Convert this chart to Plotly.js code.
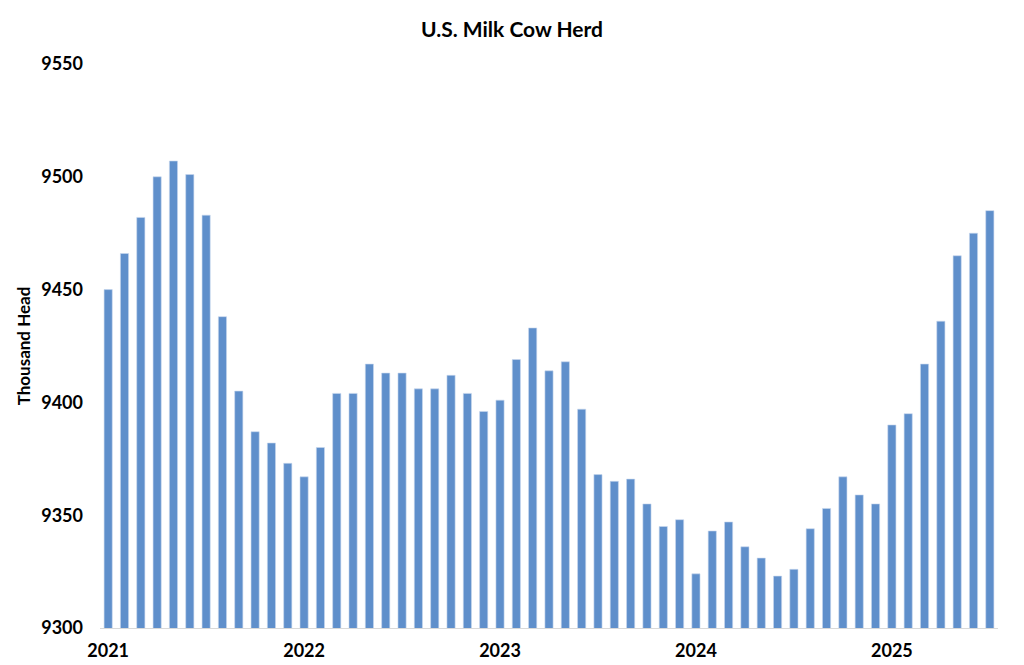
<!DOCTYPE html>
<html>
<head>
<meta charset="utf-8">
<script src="https://cdn.plot.ly/plotly-3.0.1.min.js"></script>
<style>html,body{margin:0;padding:0;background:#fff;}#chart{width:1024px;height:665px;}</style>
</head>
<body>
<div id="chart"></div>
<script>
const months = [
  "2021-01","2021-02","2021-03","2021-04","2021-05","2021-06","2021-07","2021-08","2021-09","2021-10","2021-11","2021-12",
  "2022-01","2022-02","2022-03","2022-04","2022-05","2022-06","2022-07","2022-08","2022-09","2022-10","2022-11","2022-12",
  "2023-01","2023-02","2023-03","2023-04","2023-05","2023-06","2023-07","2023-08","2023-09","2023-10","2023-11","2023-12",
  "2024-01","2024-02","2024-03","2024-04","2024-05","2024-06","2024-07","2024-08","2024-09","2024-10","2024-11","2024-12",
  "2025-01","2025-02","2025-03","2025-04","2025-05","2025-06","2025-07"
];
const herd = [
  9450, 9466, 9482, 9500, 9507, 9501, 9483, 9438, 9405, 9387, 9382, 9373,
  9367, 9380, 9404, 9404, 9417, 9413, 9413, 9406, 9406, 9412, 9404, 9396,
  9401, 9419, 9433, 9414, 9418, 9397, 9368, 9365, 9366, 9355, 9345, 9348,
  9324, 9343, 9347, 9336, 9331, 9323, 9326, 9344, 9353, 9367, 9359, 9355,
  9390, 9395, 9417, 9436, 9465, 9475, 9485
];
const yearTickVals = ["2021-01","2022-01","2023-01","2024-01","2025-01"];
const yearTickText = ["2021","2022","2023","2024","2025"];
const yTicks = [9300, 9350, 9400, 9450, 9500, 9550];

const FONT = "Lato, 'Open Sans', 'Liberation Sans', sans-serif";

Plotly.newPlot("chart", [{
  type: "bar",
  x: months,
  y: herd,
  marker: {color: "#5f8fcb", line: {color: "#c9d8ee", width: 0.6}},
  hoverinfo: "x+y"
}], {
  width: 1024, height: 665,
  margin: {l: 100, r: 26, t: 64, b: 37, pad: 0},
  paper_bgcolor: "#ffffff",
  plot_bgcolor: "#ffffff",
  bargap: 0.5,
  showlegend: false,
  font: {family: FONT, color: "#000000"},
  title: {
    text: "<b>U.S. Milk Cow Herd</b>",
    font: {family: FONT, size: 21, color: "#000000"},
    x: 0.5, xanchor: "center",
    y: 0.955, yanchor: "middle", yref: "container"
  },
  xaxis: {
    type: "category",
    tickmode: "array",
    tickvals: yearTickVals,
    ticktext: yearTickText.map(t => "<b>" + t + "</b>"),
    tickfont: {family: FONT, size: 18, color: "#000000"},
    ticks: "",
    ticklabelstandoff: 6,
    showgrid: false,
    zeroline: false,
    showline: true,
    linecolor: "#d9d9d9",
    linewidth: 1,
    fixedrange: true
  },
  yaxis: {
    range: [9300, 9550],
    tickmode: "array",
    tickvals: yTicks,
    ticktext: yTicks.map(v => "<b>" + v + "</b>"),
    tickfont: {family: FONT, size: 18, color: "#000000"},
    ticks: "",
    ticklabelstandoff: 16,
    showgrid: false,
    zeroline: false,
    showline: false,
    title: {
      text: "<b>Thousand Head</b>",
      font: {family: FONT, size: 17, color: "#000000"},
      standoff: 6
    },
    automargin: false,
    fixedrange: true
  }
}, {displayModeBar: false, staticPlot: true});
</script>
</body>
</html>
